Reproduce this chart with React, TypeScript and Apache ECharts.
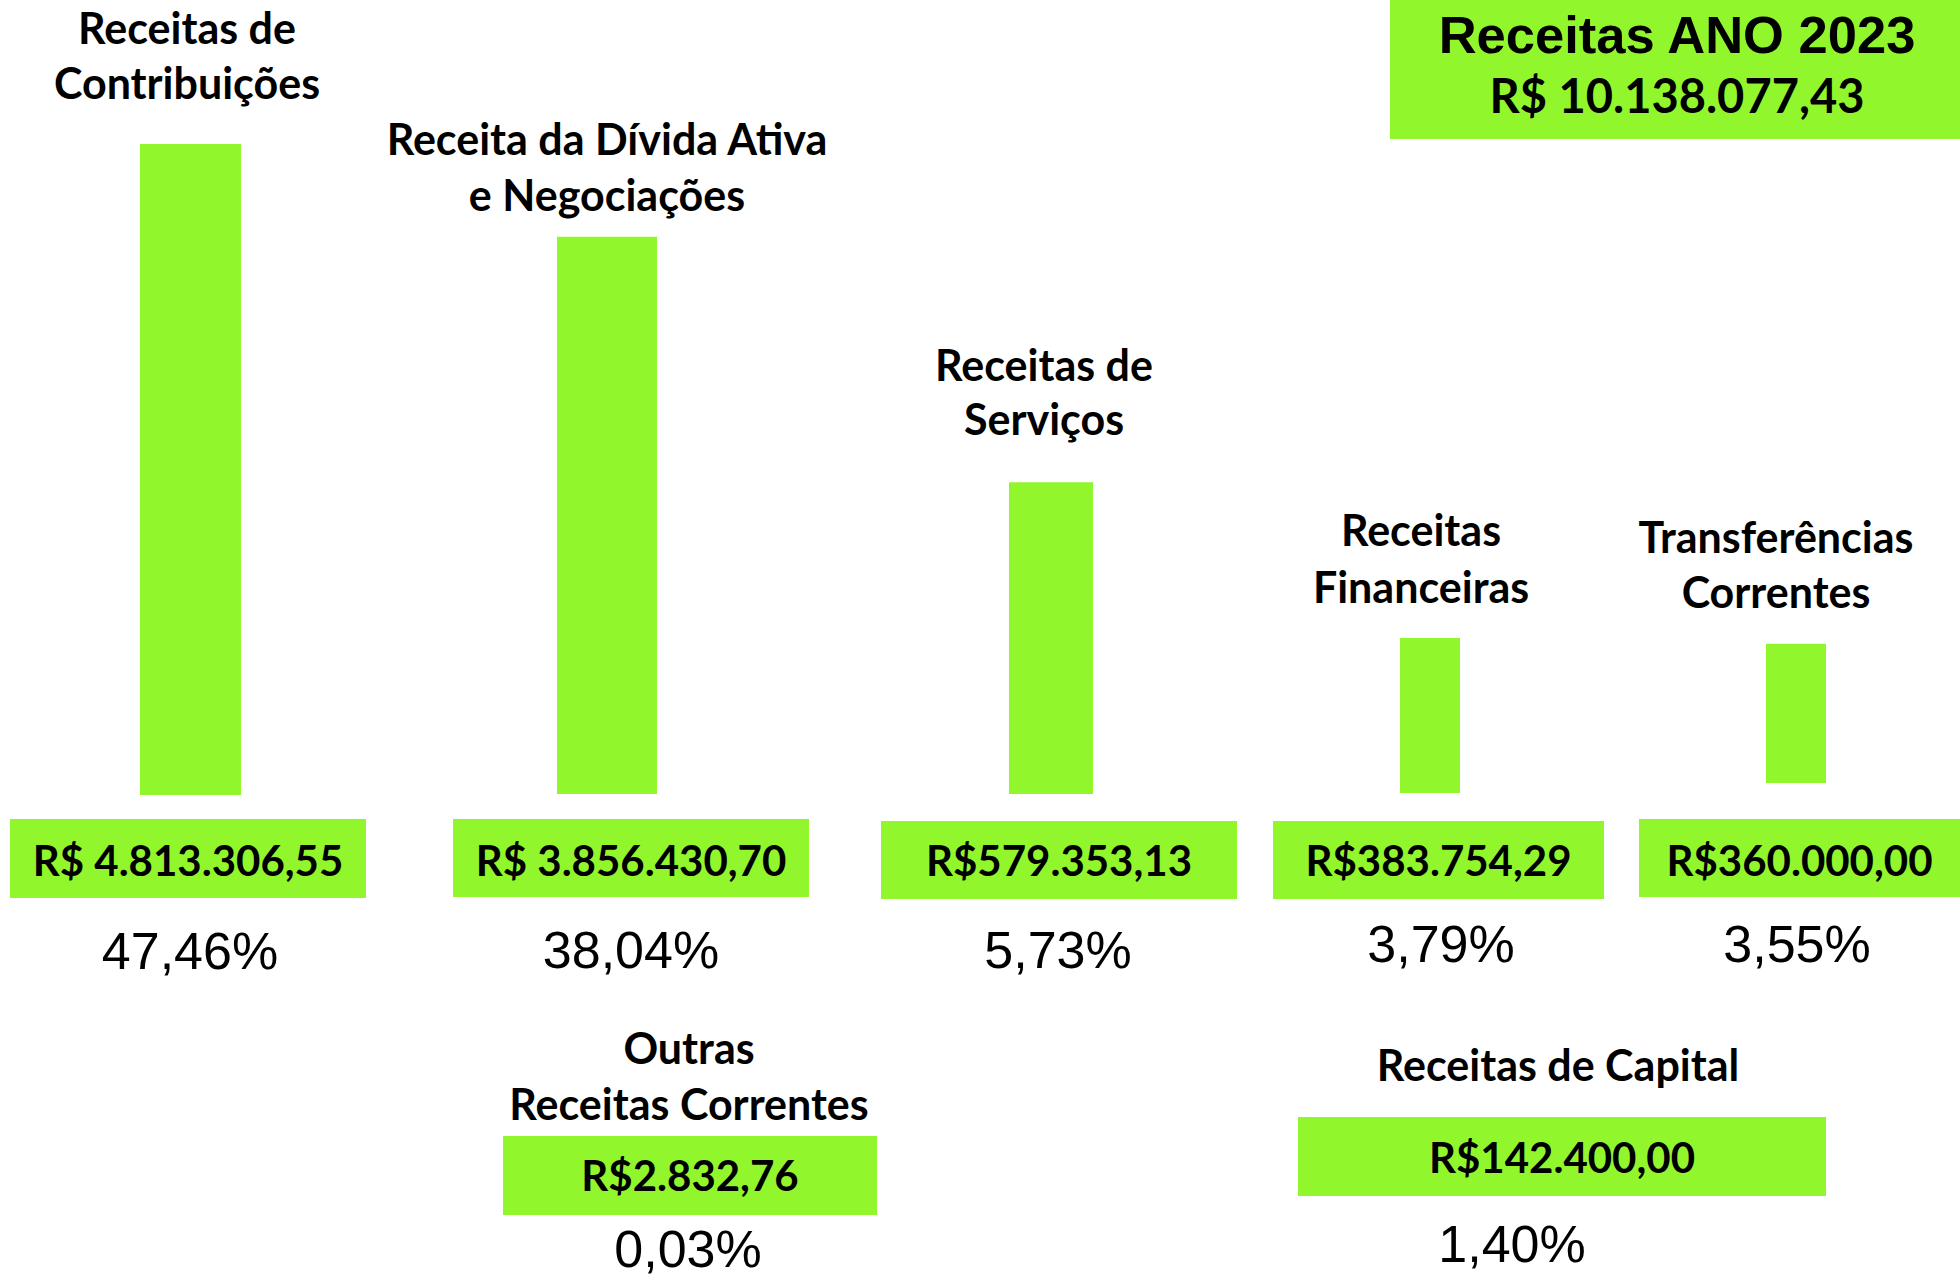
import React, { useEffect, useRef } from "react";
import * as echarts from "echarts";

// ---- data ----
const barCategories = [
  "Receitas de\nContribuições",
  "Receita da Dívida Ativa\ne Negociações",
  "Receitas de\nServiços",
  "Receitas\nFinanceiras",
  "Transferências\nCorrentes",
];
// visual bar heights as drawn (relative, tallest = 100)
const barHeights = [100, 85.6, 47.9, 23.8, 21.4];
const barAmounts = ["R$ 4.813.306,55", "R$ 3.856.430,70", "R$579.353,13", "R$383.754,29", "R$360.000,00"];
const barShares = ["47,46%", "38,04%", "5,73%", "3,79%", "3,55%"];

const otherCategories = ["Outras\nReceitas Correntes", "Receitas de Capital"];
const otherAmounts = ["R$2.832,76", "R$142.400,00"];
const otherShares = ["0,03%", "1,40%"];

const totalTitle = "Receitas ANO 2023";
const totalAmount = "R$ 10.138.077,43";

// ---- layout ----
const GREEN = "#92F62D";
const LABEL_FONT = "Lato, 'Open Sans', sans-serif";
const PCT_FONT = "'Liberation Sans', Arial, sans-serif";
const FULL = 651; // px for 100
const LABEL_SIZE = 43;
const AMOUNT_SIZE = 42;
const PCT_SIZE = 52;

const barSlots = [
  { cx: 190.5, w: 101, bottom: 795 },
  { cx: 607, w: 100, bottom: 794 },
  { cx: 1051, w: 84, bottom: 794 },
  { cx: 1430, w: 60, bottom: 793 },
  { cx: 1796, w: 60, bottom: 783 },
];
const barLabelPos = [
  { cx: 187, base: [43, 98] },
  { cx: 607, base: [154, 210] },
  { cx: 1044, base: [380, 434] },
  { cx: 1421, base: [545, 602] },
  { cx: 1776, base: [552, 607] },
];
const barBoxes = [
  { x0: 10, x1: 366, y0: 819, y1: 898, base: 875, pcx: 190, pbase: 970 },
  { x0: 453, x1: 809, y0: 819, y1: 897, base: 875, pcx: 631, pbase: 969 },
  { x0: 881, x1: 1237, y0: 821, y1: 899, base: 875, pcx: 1058, pbase: 969 },
  { x0: 1273, x1: 1604, y0: 821, y1: 899, base: 875, pcx: 1441, pbase: 963 },
  { x0: 1639, x1: 1960, y0: 819, y1: 897, base: 875, pcx: 1797, pbase: 963 },
];
const otherLabelPos = [
  { cx: 689, base: [1063, 1119] },
  { cx: 1558, base: [1080] },
];
const otherBoxes = [
  { x0: 503, x1: 877, y0: 1136, y1: 1215, base: 1190, pcx: 688, pbase: 1268 },
  { x0: 1298, x1: 1826, y0: 1117, y1: 1196, base: 1172, pcx: 1512, pbase: 1263 },
];

function txt(text: string, cx: number, baseline: number, size: number, family: string, weight: string) {
  return {
    type: "text",
    x: cx,
    y: baseline - size * 0.36,
    z: 10,
    style: {
      text,
      fontSize: size,
      fontFamily: family,
      fontWeight: weight,
      fill: "#000",
      align: "center",
      verticalAlign: "middle",
      textAlign: "center",
      textVerticalAlign: "middle",
    },
  };
}

function rect(x0: number, y0: number, x1: number, y1: number) {
  return { type: "rect", z: 1, shape: { x: x0, y: y0, width: x1 - x0, height: y1 - y0 }, style: { fill: GREEN } };
}

export default function App() {
  const ref = useRef<HTMLDivElement>(null);
  useEffect(() => {
    if (!ref.current) return;
    const chart = echarts.init(ref.current, null, { renderer: "svg" });

    const grids: any[] = [];
    const xAxes: any[] = [];
    const yAxes: any[] = [];
    const series: any[] = [];
    barCategories.forEach((name, i) => {
      const s = barSlots[i];
      grids.push({ left: s.cx - 100, width: 200, top: s.bottom - FULL, height: FULL, containLabel: false });
      xAxes.push({ type: "category", gridIndex: i, data: [name], show: false });
      yAxes.push({ type: "value", gridIndex: i, min: 0, max: 100, show: false });
      series.push({
        type: "bar",
        name,
        xAxisIndex: i,
        yAxisIndex: i,
        data: [barHeights[i]],
        barWidth: s.w,
        itemStyle: { color: GREEN },
        silent: true,
      });
    });

    const elements: any[] = [];
    // title box
    elements.push(rect(1390, 0, 1960, 139));
    elements.push(txt(totalTitle, 1677, 53, 52.5, PCT_FONT, "bold"));
    elements.push(txt(totalAmount, 1677, 112, 47, LABEL_FONT, "bold"));

    barCategories.forEach((name, i) => {
      const lp = barLabelPos[i];
      name.split("\n").forEach((line, k) => elements.push(txt(line, lp.cx, lp.base[k], LABEL_SIZE, LABEL_FONT, "bold")));
      const b = barBoxes[i];
      elements.push(rect(b.x0, b.y0, b.x1, b.y1));
      elements.push(txt(barAmounts[i], (b.x0 + b.x1) / 2, b.base, AMOUNT_SIZE, LABEL_FONT, "bold"));
      elements.push(txt(barShares[i], b.pcx, b.pbase, PCT_SIZE, PCT_FONT, "normal"));
    });
    otherCategories.forEach((name, i) => {
      const lp = otherLabelPos[i];
      name.split("\n").forEach((line, k) => elements.push(txt(line, lp.cx, lp.base[k], LABEL_SIZE, LABEL_FONT, "bold")));
      const b = otherBoxes[i];
      elements.push(rect(b.x0, b.y0, b.x1, b.y1));
      elements.push(txt(otherAmounts[i], (b.x0 + b.x1) / 2, b.base, AMOUNT_SIZE, LABEL_FONT, "bold"));
      elements.push(txt(otherShares[i], b.pcx, b.pbase, PCT_SIZE, PCT_FONT, "normal"));
    });

    chart.setOption({
      animation: false,
      backgroundColor: "#ffffff",
      grid: grids,
      xAxis: xAxes,
      yAxis: yAxes,
      series,
      graphic: { elements },
    });
    return () => chart.dispose();
  }, []);
  return (
    <div
      ref={ref}
      style={{ position: "fixed", left: 0, top: 0, width: 1960, height: 1277, background: "#fff" }}
    />
  );
}
